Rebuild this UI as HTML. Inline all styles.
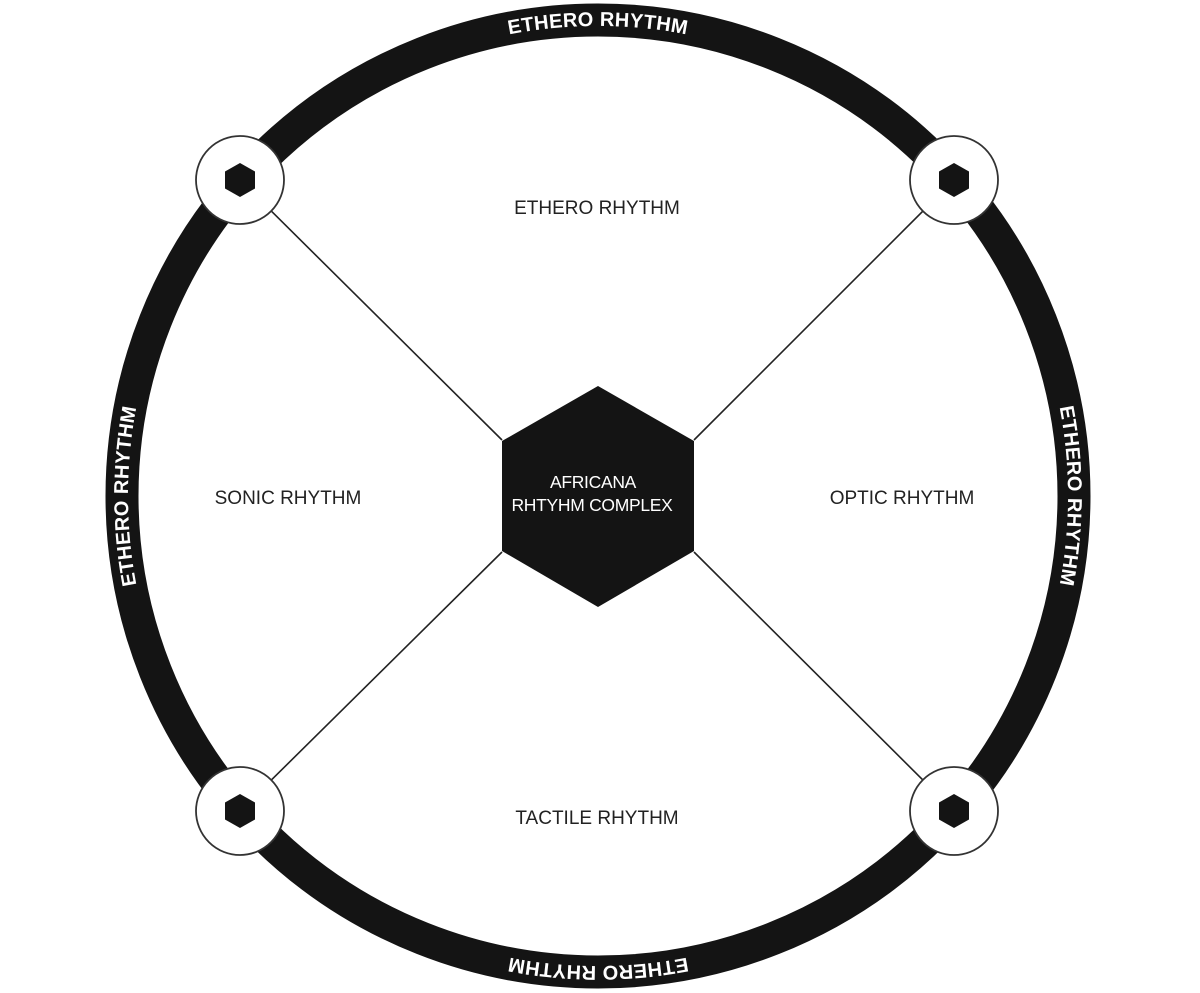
<!DOCTYPE html>
<html><head><meta charset="utf-8"><style>
html,body{margin:0;padding:0;background:#fff;width:1200px;height:993px;overflow:hidden}
svg text{font-family:"Liberation Sans",sans-serif}
</style></head><body>
<svg width="1200" height="993" viewBox="0 0 1200 993" xmlns="http://www.w3.org/2000/svg">
<defs>
<path id="ring" d="M 261.4 832.6 A 476 476 0 1 1 934.6 159.4 A 476 476 0 1 1 261.4 832.6"/>
</defs>
<circle cx="598" cy="496" r="476" fill="none" stroke="#141414" stroke-width="33"/>
<g stroke="#222" stroke-width="1.6">
<line x1="240" y1="180" x2="502" y2="440"/>
<line x1="954" y1="180" x2="694" y2="440"/>
<line x1="240" y1="811" x2="502" y2="552"/>
<line x1="954" y1="811" x2="694" y2="552"/>
</g>
<polygon points="598,386 694,441 694,551 598,607 502,551 502,441" fill="#141414"/>
<g fill="#fff" stroke="#333" stroke-width="1.8">
<circle cx="240" cy="180" r="44"/>
<circle cx="954" cy="180" r="44"/>
<circle cx="240" cy="811" r="44"/>
<circle cx="954" cy="811" r="44"/>
</g>
<g fill="#141414">
<polygon points="240,163 255,171.5 255,188.5 240,197 225,188.5 225,171.5"/>
<polygon points="954,163 969,171.5 969,188.5 954,197 939,188.5 939,171.5"/>
<polygon points="240,794 255,802.5 255,819.5 240,828 225,819.5 225,802.5"/>
<polygon points="954,794 969,802.5 969,819.5 954,828 939,819.5 939,802.5"/>
</g>
<g font-size="20" font-weight="bold" fill="#fff" dominant-baseline="central" text-anchor="middle" letter-spacing="0.5">
<text><textPath href="#ring" startOffset="12.5%">ETHERO RHYTHM</textPath></text>
<text><textPath href="#ring" startOffset="37.5%">ETHERO RHYTHM</textPath></text>
<text><textPath href="#ring" startOffset="62.5%">ETHERO RHYTHM</textPath></text>
<text><textPath href="#ring" startOffset="87.5%">ETHERO RHYTHM</textPath></text>
</g>
<g font-size="19" fill="#222" text-anchor="middle">
<text x="597" y="214">ETHERO RHYTHM</text>
<text x="288" y="504">SONIC RHYTHM</text>
<text x="902" y="504">OPTIC RHYTHM</text>
<text x="597" y="824">TACTILE RHYTHM</text>
</g>
<g font-size="17.5" fill="#fff" text-anchor="middle" letter-spacing="-0.3">
<text x="593" y="488">AFRICANA</text>
<text x="592" y="511">RHTYHM COMPLEX</text>
</g>
</svg>
</body></html>
